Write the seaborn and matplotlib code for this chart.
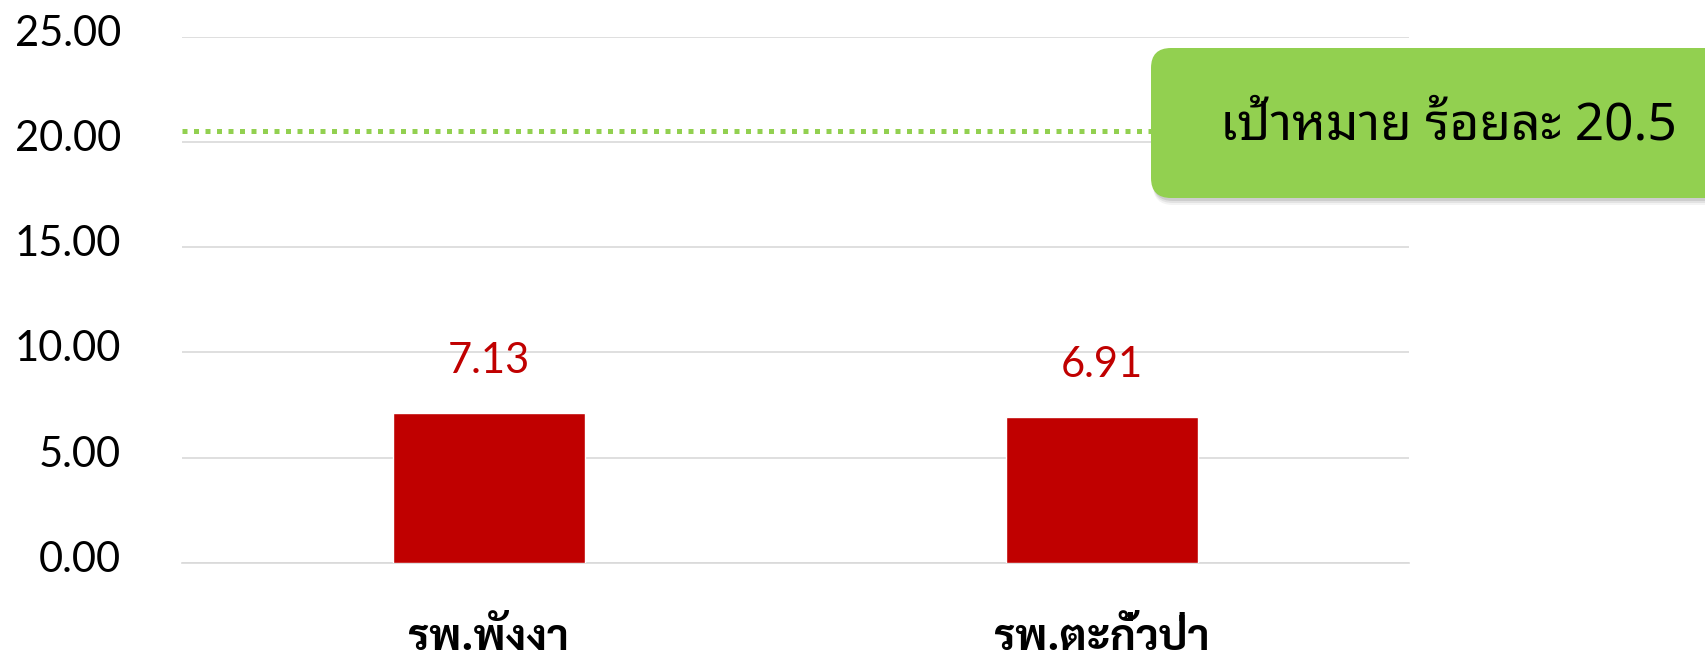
import matplotlib
matplotlib.use("Agg")
import pandas as pd
import seaborn as sns
import matplotlib.pyplot as plt
from matplotlib.patches import FancyBboxPatch
from matplotlib.transforms import IdentityTransform, ScaledTranslation

# data
hospitals = ["รพ.พังงา", "รพ.ตะกั่วป่า"]
rates = [7.13, 6.91]
target = 20.5
target_label = "เป้าหมาย ร้อยละ 20.5"
y_ticks = [0, 5, 10, 15, 20, 25]

df = pd.DataFrame({"hospital": hospitals, "rate": rates})

sns.set_theme(style="white")
plt.rcParams["font.family"] = ["Lato", "DejaVu Sans"]

fig = plt.figure(figsize=(17.06, 6.59), dpi=100)
ax = fig.add_axes([182 / 1706, 1 - 563 / 659, (1409 - 182) / 1706, (563 - 36.5) / 659])

sns.barplot(data=df, x="hospital", y="rate", color="#C00000", width=0.313,
            saturation=1, ax=ax, zorder=3)

ax.set_ylim(0, 25)
ax.set_yticks(y_ticks)
ax.set_yticklabels([f"{v:.2f}" for v in y_ticks], fontsize=30, color="black")
ax.yaxis.grid(True, color="#D9D9D9", linewidth=1.2, zorder=0)
ax.set_axisbelow(True)
for side in ["left", "right", "top"]:
    ax.spines[side].set_visible(False)
ax.spines["bottom"].set_color("#D9D9D9")
ax.spines["bottom"].set_linewidth(1.2)
ax.tick_params(axis="y", length=0, pad=44)
ax.tick_params(axis="x", length=0, pad=39)
ax.set_xlabel("")
ax.set_ylabel("")

# y labels sit a little above their gridlines in the original
shift_up = ScaledTranslation(0, 0.065, fig.dpi_scale_trans)
for lbl in ax.get_yticklabels():
    lbl.set_transform(lbl.get_transform() + shift_up)

for lbl in ax.get_xticklabels():
    lbl.set_fontfamily(["Sarabun", "DejaVu Sans"])
    lbl.set_fontweight("bold")
    lbl.set_fontsize(31)
    lbl.set_color("black")

# value labels above the bars
for i, v in enumerate(rates):
    ax.annotate(f"{v:.2f}", (i, v), xytext=(0, 29), textcoords="offset points",
                ha="center", va="baseline", fontsize=30, color="#C00000")

# target line
ax.axhline(target, color="#92D050", linewidth=3.6, linestyle=(0, (1, 1.3)),
           dash_capstyle="butt", zorder=4)

# callout box (pixel coordinates)
ident = IdentityTransform()
for k, a in [(7, 0.07), (5, 0.1), (3, 0.15)]:
    fig.patches.append(FancyBboxPatch((1151 + 2, 659 - 198 - k), 620, 150,
                                      boxstyle="round,pad=0,rounding_size=20",
                                      transform=ident, facecolor="#555555",
                                      edgecolor="none", alpha=a, zorder=5))
fig.patches.append(FancyBboxPatch((1151, 659 - 198), 620, 150,
                                  boxstyle="round,pad=0,rounding_size=20",
                                  transform=ident, facecolor="#92D050",
                                  edgecolor="none", zorder=6))
fig.text(1448 / 1706, 1 - 139 / 659, target_label, ha="center", va="baseline",
         fontsize=37, fontweight=500, color="black",
         family=["Noto Sans Thai Looped", "DejaVu Sans"], zorder=7)

fig.savefig("out.png", dpi=100)
